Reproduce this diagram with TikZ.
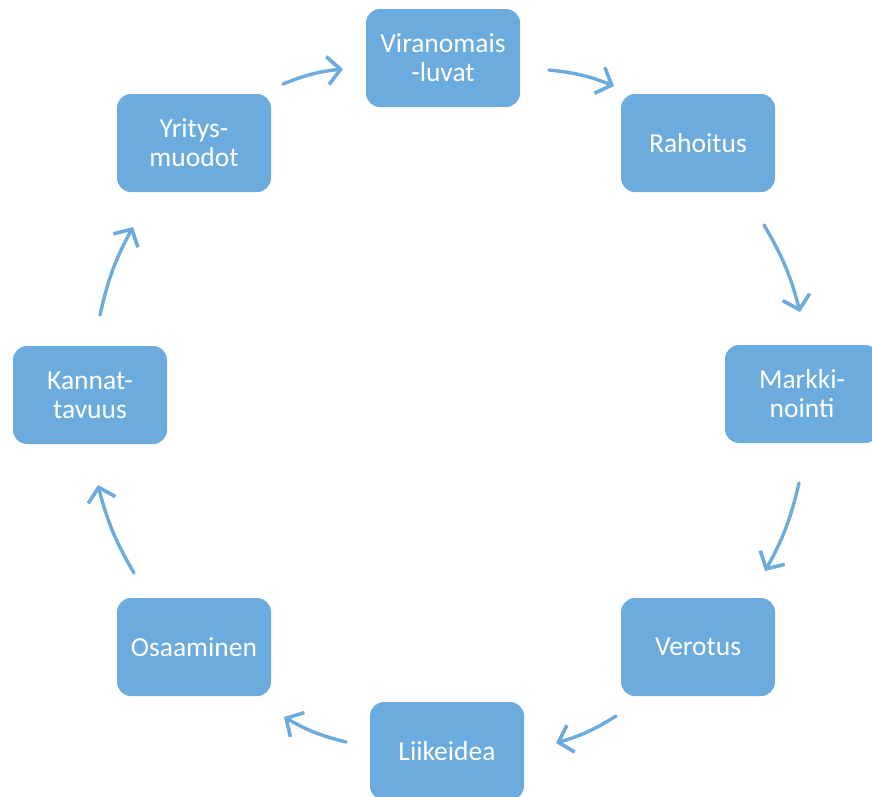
\documentclass[tikz,border=0pt]{standalone}
\usepackage{fontspec}
\setmainfont{Carlito}
\usetikzlibrary{arrows.meta}
\definecolor{boxblue}{HTML}{6CABDD}
\begin{document}
\begin{tikzpicture}[x=1pt,y=-1pt,
  stepbox/.style={draw=none, fill=boxblue, rounded corners=14pt, minimum width=154pt, minimum height=98pt,
    text=white, align=center, inner sep=0pt, font=\fontsize{27.5}{29}\selectfont},
  arr/.style={draw=boxblue, line width=3.4pt, line cap=round,
    -{Straight Barb[length=13pt,width=28pt,line width=3.6pt]}}]
\useasboundingbox (0,0) rectangle (872,796);
\clip (0,0) rectangle (872,796);
\node[stepbox] (vir) at (443,58) {Viranomais\\-luvat};
\node[stepbox] (rah) at (698,143) {Rahoitus};
\node[stepbox] (mar) at (802,394) {Markki-\\nointi};
\node[stepbox] (ver) at (698,647) {Verotus};
\node[stepbox] (lii) at (447,751) {Liikeidea};
\node[stepbox] (osa) at (194,647) {Osaaminen};
\node[stepbox] (kan) at (90,395) {Kannat-\\tavuus};
\node[stepbox] (yri) at (194,143) {Yritys-\\muodot};
\coordinate (a1s) at (283,84);  \coordinate (a1e) at (343,69);
\coordinate (a2s) at (549,70);  \coordinate (a2e) at (614,86);
\coordinate (a3s) at (764,225); \coordinate (a3e) at (800,312);
\coordinate (a4s) at (799,483); \coordinate (a4e) at (765,571);
\coordinate (a5s) at (616,716); \coordinate (a5e) at (556,743);
\coordinate (a6s) at (346,742); \coordinate (a6e) at (284,717);
\coordinate (a7s) at (134,573); \coordinate (a7e) at (98,485);
\coordinate (a8s) at (100,315); \coordinate (a8e) at (133,227);
\draw[arr] (a1s) to[bend left=8] (a1e);
\draw[arr] (a2s) to[bend left=8] (a2e);
\draw[arr] (a3s) to[bend left=8] (a3e);
\draw[arr] (a4s) to[bend left=8] (a4e);
\draw[arr] (a5s) to[bend left=8] (a5e);
\draw[arr] (a6s) to[bend left=8] (a6e);
\draw[arr] (a7s) to[bend left=8] (a7e);
\draw[arr] (a8s) to[bend left=8] (a8e);
\end{tikzpicture}
\end{document}
